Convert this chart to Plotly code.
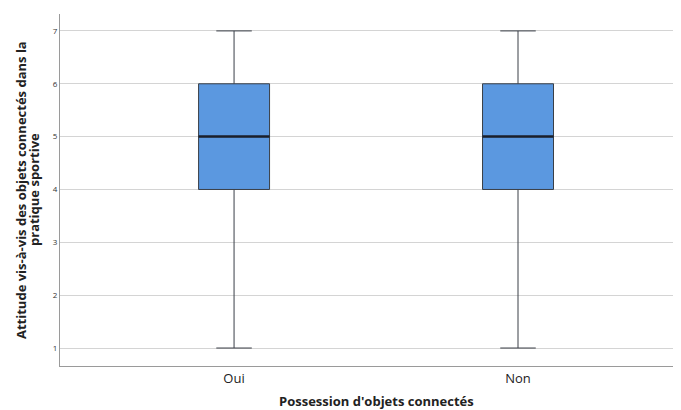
import plotly.graph_objects as go

categories = ["Oui", "Non"]
minimum = [1, 1]
q1 = [4, 4]
median = [5, 5]
q3 = [6, 6]
maximum = [7, 7]
y_ticks = [1, 2, 3, 4, 5, 6, 7]

x_title = "Possession d'objets connectés"
y_title_lines = ["Attitude vis-à-vis des objets connectés dans la", "pratique sportive"]

box_width = 0.25

fig = go.Figure()
fig.add_trace(go.Box(
    x=categories,
    q1=q1, median=median, q3=q3,
    lowerfence=minimum, upperfence=maximum,
    fillcolor="#5b98e0",
    line=dict(color="#3a3f47", width=1),
    width=box_width,
    whiskerwidth=0.5,
    boxpoints=False,
    showlegend=False,
    hoverinfo="skip",
))

for i, m in enumerate(median):
    fig.add_shape(type="line", xref="x", yref="y",
                  x0=i - box_width / 2, x1=i + box_width / 2, y0=m, y1=m,
                  line=dict(color="#1a1f2b", width=2.5))

# axis titles as annotations for precise placement
fig.add_annotation(text="<b>" + x_title + "</b>", xref="x", yref="paper",
                   x=0.5, y=0, yshift=-35, xanchor="center", yanchor="middle",
                   showarrow=False, font=dict(size=13, color="#222"))
for shift, line in zip([-39, -26], y_title_lines):
    fig.add_annotation(text="<b>" + line + "</b>", xref="paper", yref="paper",
                       x=0, y=0.5, xshift=shift, textangle=-90,
                       xanchor="center", yanchor="middle",
                       showarrow=False, font=dict(size=13, color="#222"))

fig.update_layout(
    width=673, height=402,
    margin=dict(l=52, r=0, t=6, b=44),
    paper_bgcolor="white", plot_bgcolor="white",
    font=dict(family="Open Sans, Lato, sans-serif", color="#222"),
    xaxis=dict(
        type="category", range=[-0.613, 1.574], automargin=False,
        showline=True, linecolor="#9a9a9a", linewidth=1,
        ticks="", tickfont=dict(size=13, color="#222"),
        showgrid=False, zeroline=False,
    ),
    yaxis=dict(
        range=[0.66, 7.32], automargin=False,
        tickvals=y_ticks, ticktext=[str(t) for t in y_ticks],
        tickfont=dict(size=8, color="#333"),
        showline=True, linecolor="#9a9a9a", linewidth=1,
        showgrid=True, gridcolor="#d4d4d4", gridwidth=1,
        zeroline=False, ticks="",
    ),
)

fig.write_html("out.html")
